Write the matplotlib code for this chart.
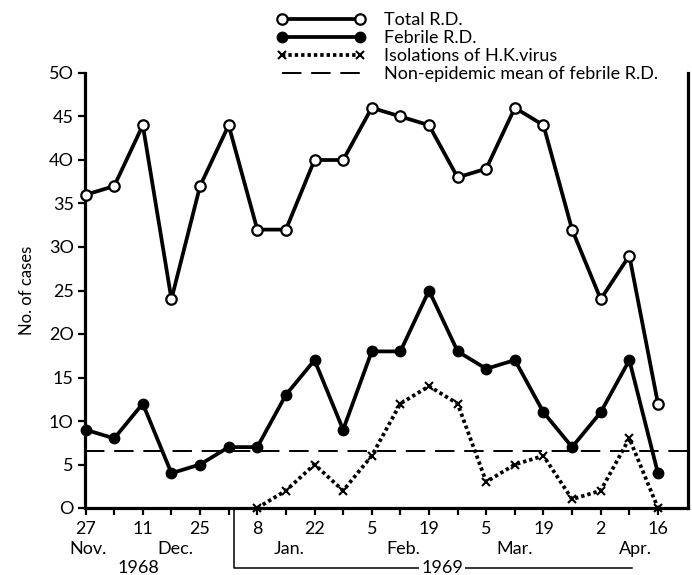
import matplotlib
matplotlib.use("Agg")
import matplotlib.pyplot as plt
from matplotlib.lines import Line2D
import matplotlib.transforms as mtransforms

plt.rcParams['font.family'] = ['Lato', 'DejaVu Sans']

# weekly dates, 27 Nov 1968 .. 16 Apr 1969 (index 0..20)
weeks = list(range(21))
total_rd = [36, 37, 44, 24, 37, 44, 32, 32, 40, 40, 46, 45, 44, 38, 39, 46, 44, 32, 24, 29, 12]
febrile_rd = [9, 8, 12, 4, 5, 7, 7, 13, 17, 9, 18, 18, 25, 18, 16, 17, 11, 7, 11, 17, 4]
iso_weeks = list(range(6, 21))
isolations = [0, 2, 5, 2, 6, 12, 14, 12, 3, 5, 6, 1, 2, 8, 0]
nonepidemic_mean = 6.5

day_ticks = [0, 2, 4, 6, 8, 10, 12, 14, 16, 18, 20]
day_labels = ['27', '11', '25', '8', '22', '5', '19', '5', '19', '2', '16']
month_pos = [0.1, 3.15, 7.1, 11.1, 15.0, 19.2]
month_labels = ['Nov.', 'Dec.', 'Jan.', 'Feb.', 'Mar.', 'Apr.']
yticks = [0, 5, 10, 15, 20, 25, 30, 35, 40, 45, 50]
ytick_labels = ['O', '5', '1O', '15', '2O', '25', '3O', '35', '4O', '45', '5O']

fig = plt.figure(figsize=(6.92, 5.75), dpi=100)
ax = fig.add_axes([85/692, 67/575, 603/692, 435/575])

LW = 2.7
ax.plot(weeks, total_rd, color='black', lw=LW, marker='o', markersize=7.5,
        markerfacecolor='white', markeredgecolor='black', markeredgewidth=1.6,
        clip_on=False, zorder=4, label='Total R.D.')
ax.plot(weeks, febrile_rd, color='black', lw=LW, marker='o', markersize=7.5,
        markerfacecolor='black', markeredgecolor='black',
        clip_on=False, zorder=4, label='Febrile R.D.')
ax.plot(iso_weeks, isolations, color='black', lw=2.7, linestyle=(0, (0.9, 0.8)),
        marker='x', markersize=6, markeredgewidth=1.5,
        clip_on=False, zorder=3, label='Isolations of H.K.virus')
ax.axhline(nonepidemic_mean, color='black', lw=1.4, linestyle=(0, (10, 5)),
           zorder=2, label='Non-epidemic mean of febrile R.D.')

ax.set_xlim(-0.02, 21.05)
ax.set_ylim(0, 50)

ax.spines['top'].set_visible(False)
for s in ['left', 'bottom', 'right']:
    ax.spines[s].set_linewidth(2.3)

ax.set_yticks(yticks)
ax.set_yticklabels(ytick_labels, fontsize=13)
ax.set_xticks(day_ticks)
ax.set_xticklabels(day_labels, fontsize=13)
ax.set_xticks(weeks, minor=True)
ax.tick_params(axis='y', direction='out', length=5, width=1.6, pad=3)
ax.tick_params(axis='x', which='both', direction='out', length=5, width=1.6, pad=4)

ax.set_ylabel('No. of cases', fontsize=12, labelpad=10)

trans = mtransforms.blended_transform_factory(ax.transData, ax.transAxes)
for p, m in zip(month_pos, month_labels):
    ax.text(p, -0.094, m, transform=trans, ha='center', va='center', fontsize=13)

ax.text(1.85, -0.138, '1968', transform=trans, ha='center', va='center', fontsize=13)

# 1969 bracket
ax.plot([5.2, 5.2, 19.1], [0, -0.138, -0.138], transform=trans, color='black',
        lw=1.1, clip_on=False)
ax.text(12.46, -0.138, '1969', transform=trans, ha='center', va='center',
        fontsize=13, bbox=dict(facecolor='white', edgecolor='none', pad=1.5))

handles = [
    Line2D([], [], color='black', lw=LW, marker='o', markersize=7.5,
           markerfacecolor='white', markeredgewidth=1.6),
    Line2D([], [], color='black', lw=LW, marker='o', markersize=7.5,
           markerfacecolor='black'),
    Line2D([], [], color='black', lw=2.7, linestyle=(0, (0.9, 0.8)), marker='x',
           markersize=6, markeredgewidth=1.5),
    Line2D([], [], color='black', lw=1.4, linestyle=(0, (10, 5))),
]
labels = ['Total R.D.', 'Febrile R.D.', 'Isolations of H.K.virus',
          'Non-epidemic mean of febrile R.D.']
fig.legend(handles, labels, loc='upper left', bbox_to_anchor=(277/692, 1 - 12/575),
           frameon=False, fontsize=13, numpoints=2, handlelength=4.9,
           handletextpad=1.0, labelspacing=0.12, borderpad=0, borderaxespad=0)

fig.savefig('out.png', dpi=100)
